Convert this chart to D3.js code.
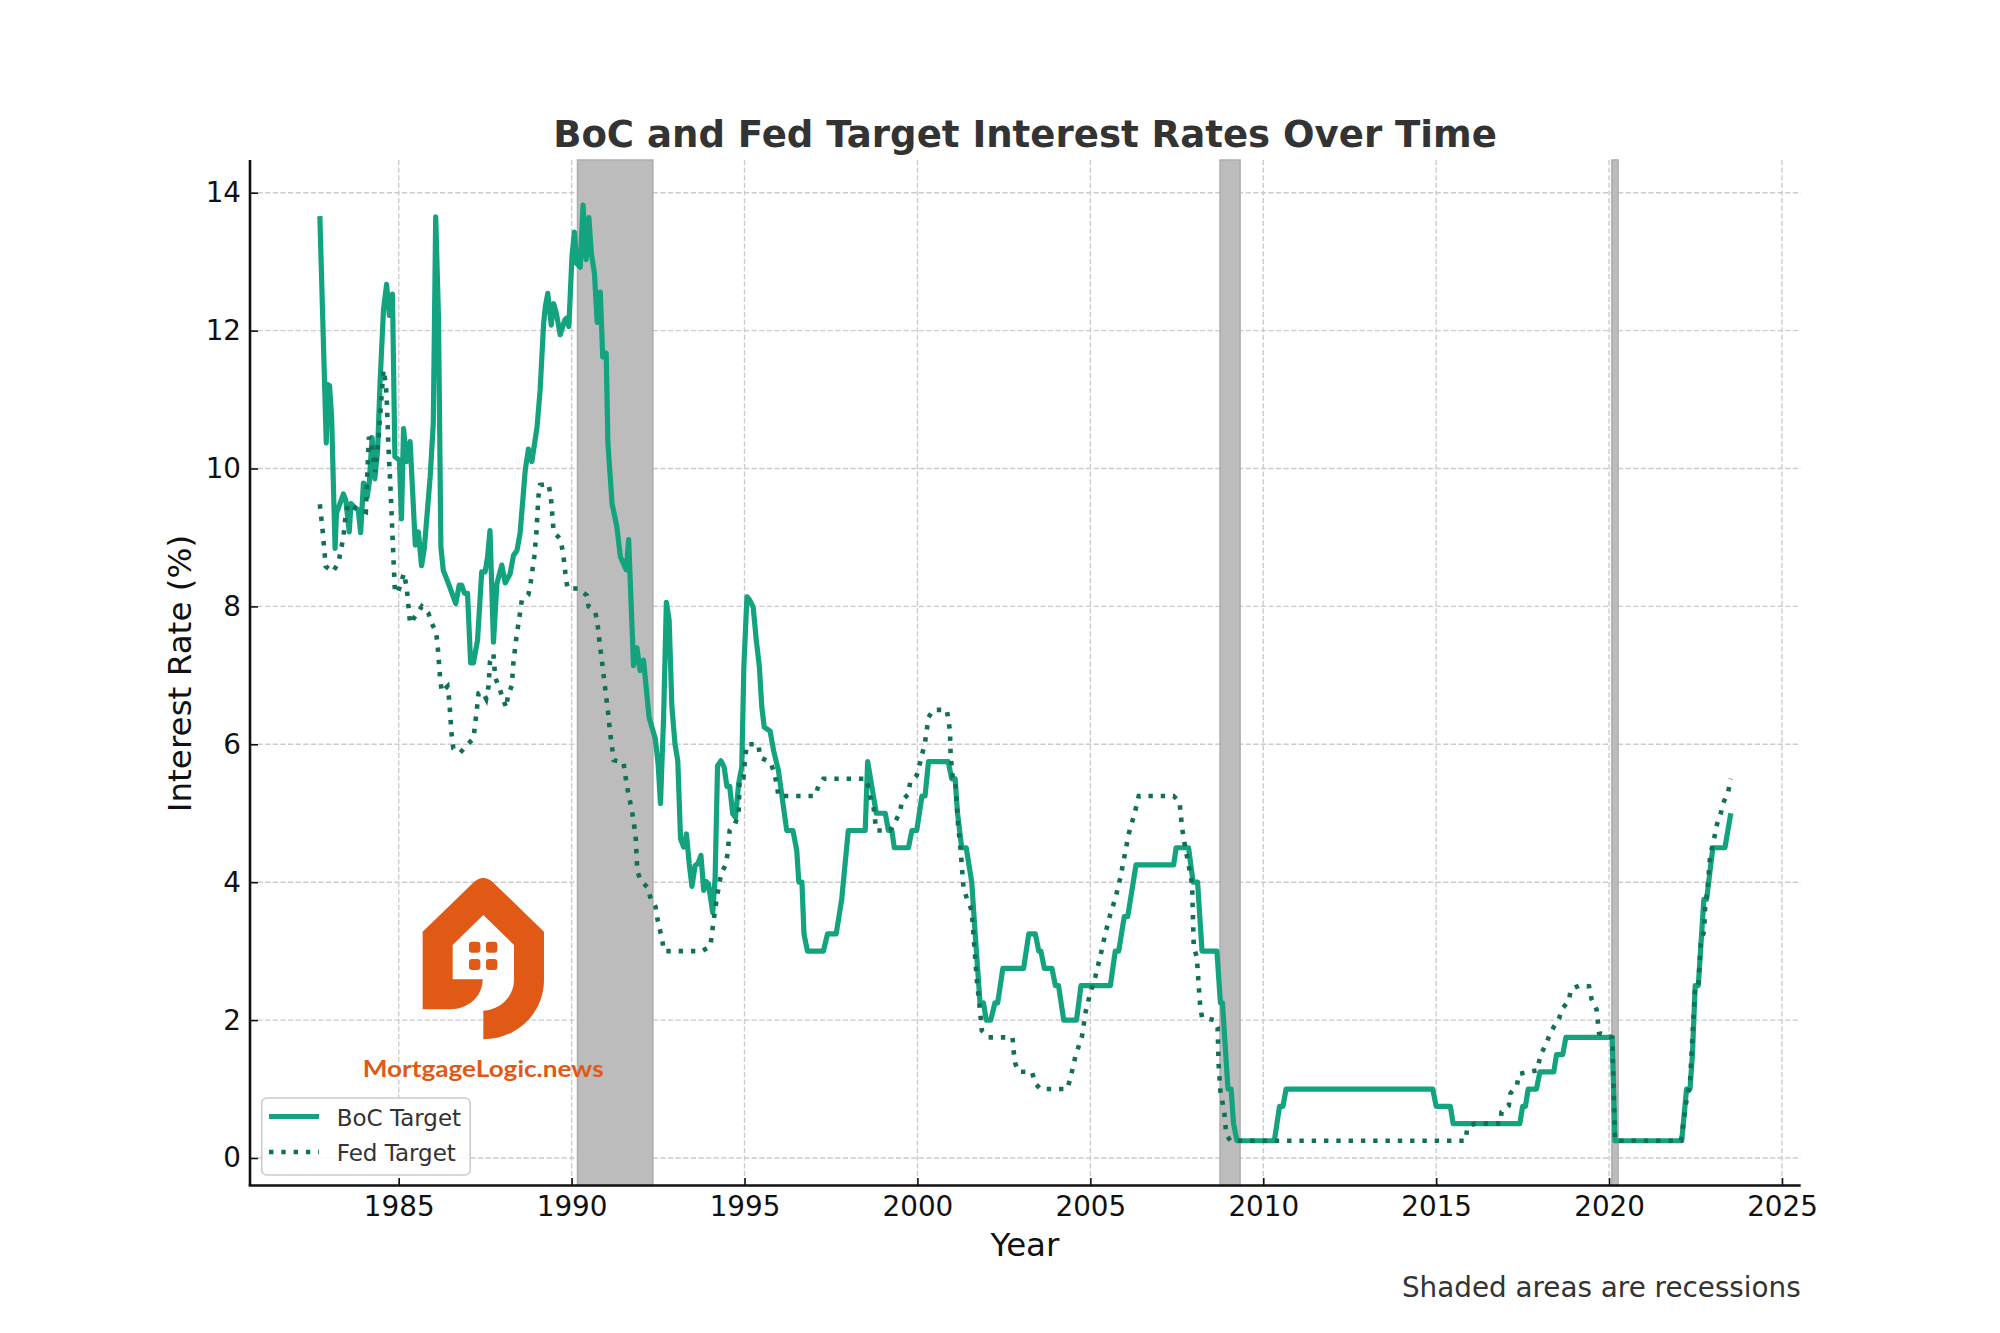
<!DOCTYPE html>
<html><head><meta charset="utf-8">
<script src="https://cdn.jsdelivr.net/npm/d3@7/dist/d3.min.js"></script>
<style>html,body{margin:0;padding:0;background:#fff}svg{display:block}text{font-family:"DejaVu Sans",sans-serif}</style>
</head><body><svg id="c" width="2000" height="1333"></svg>
<script>
const bocYears=[1982.72,1982.905,1982.94,1983.0,1983.06,1983.16,1983.2,1983.4,1983.47,1983.57,1983.62,1983.76,1983.83,1983.9,1983.98,1984.03,1984.09,1984.15,1984.23,1984.31,1984.39,1984.46,1984.56,1984.65,1984.73,1984.82,1984.89,1985.02,1985.08,1985.14,1985.23,1985.33,1985.48,1985.57,1985.66,1985.74,1985.91,1986.0,1986.07,1986.15,1986.22,1986.29,1986.44,1986.65,1986.75,1986.82,1986.9,1986.99,1987.08,1987.16,1987.28,1987.4,1987.5,1987.57,1987.64,1987.74,1987.84,1987.98,1988.08,1988.22,1988.32,1988.42,1988.51,1988.66,1988.75,1988.85,1989.0,1989.09,1989.19,1989.24,1989.31,1989.41,1989.48,1989.56,1989.67,1989.8,1989.85,1989.92,1990.01,1990.08,1990.15,1990.25,1990.33,1990.42,1990.5,1990.57,1990.66,1990.74,1990.83,1990.9,1991.0,1991.05,1991.17,1991.31,1991.41,1991.58,1991.65,1991.79,1991.89,1991.98,1992.08,1992.24,1992.42,1992.5,1992.57,1992.66,1992.74,1992.82,1992.9,1992.99,1993.07,1993.15,1993.24,1993.32,1993.4,1993.48,1993.57,1993.65,1993.74,1993.82,1993.89,1993.96,1994.08,1994.15,1994.22,1994.32,1994.41,1994.49,1994.57,1994.66,1994.74,1994.83,1994.92,1994.98,1995.07,1995.15,1995.25,1995.34,1995.43,1995.5,1995.57,1995.74,1995.84,1995.98,1996.22,1996.4,1996.51,1996.57,1996.66,1996.72,1996.82,1997.28,1997.4,1997.65,1997.81,1998.0,1998.49,1998.56,1998.81,1999.07,1999.16,1999.26,1999.33,1999.74,1999.84,1999.98,2000.13,2000.22,2000.32,2000.89,2000.99,2001.09,2001.16,2001.28,2001.41,2001.57,2001.67,2001.81,2001.91,2001.99,2002.12,2002.24,2002.32,2002.47,2003.07,2003.22,2003.41,2003.51,2003.57,2003.67,2003.89,2003.99,2004.08,2004.23,2004.6,2004.73,2005.58,2005.72,2005.82,2005.98,2006.08,2006.32,2007.41,2007.48,2007.84,2007.97,2008.1,2008.23,2008.66,2008.76,2008.82,2008.98,2009.07,2009.14,2009.24,2010.32,2010.47,2010.57,2010.66,2014.9,2015.0,2015.41,2015.49,2017.42,2017.5,2017.58,2017.66,2017.9,2018.0,2018.4,2018.48,2018.66,2018.75,2020.09,2020.17,2022.1,2022.24,2022.34,2022.41,2022.49,2022.58,2022.74,2022.82,2023.0,2023.35,2023.52];
const bocRates=[13.66,10.37,11.22,11.2,10.75,8.84,9.35,9.63,9.54,9.08,9.49,9.42,9.4,9.07,9.79,9.76,9.59,9.8,10.45,9.85,10.27,11.23,12.3,12.67,12.22,12.53,10.17,10.12,9.27,10.58,10.1,10.39,8.89,9.08,8.59,8.84,9.88,10.65,13.65,12.2,8.86,8.52,8.33,8.04,8.31,8.31,8.19,8.19,7.18,7.18,7.51,8.5,8.5,8.72,9.1,7.48,8.33,8.6,8.34,8.47,8.74,8.81,9.06,9.98,10.28,10.1,10.6,11.14,12.1,12.35,12.54,12.08,12.39,12.25,11.94,12.15,12.18,12.06,13.07,13.43,12.97,12.92,13.82,13.03,13.64,13.12,12.83,12.12,12.56,11.62,11.67,10.36,9.49,9.15,8.72,8.53,8.97,7.14,7.4,7.07,7.22,6.39,6.08,5.72,5.14,6.39,8.06,7.8,6.54,6.0,5.76,4.63,4.51,4.7,4.27,3.94,4.24,4.27,4.39,3.88,4.01,3.97,3.56,4.07,5.69,5.76,5.67,5.39,5.39,4.99,4.94,5.43,5.67,7.12,8.14,8.09,7.99,7.51,7.12,6.54,6.25,6.19,5.91,5.62,4.75,4.75,4.46,4.0,4.0,3.25,3.0,3.0,3.25,3.25,3.75,4.75,4.75,5.75,5.0,5.0,4.75,4.75,4.5,4.5,4.75,4.75,5.25,5.25,5.75,5.75,5.5,5.5,5.0,4.5,4.5,4.0,3.25,2.25,2.25,2.0,2.0,2.25,2.25,2.75,2.75,3.25,3.25,3.0,3.0,2.75,2.75,2.5,2.5,2.0,2.0,2.5,2.5,3.0,3.0,3.5,3.5,4.25,4.25,4.5,4.5,4.0,4.0,3.0,3.0,2.25,2.25,1.0,1.0,0.5,0.25,0.25,0.75,0.75,1.0,1.0,0.75,0.75,0.5,0.5,0.75,0.75,1.0,1.0,1.25,1.25,1.5,1.5,1.75,1.75,0.25,0.25,1.0,1.0,1.5,2.5,2.5,3.75,3.75,4.5,4.5,5.0];
const fedYears=[1982.72,1982.8,1982.89,1983.09,1983.25,1983.4,1983.47,1983.54,1983.69,1984.05,1984.08,1984.14,1984.22,1984.32,1984.41,1984.56,1984.62,1984.65,1984.7,1984.77,1984.83,1984.89,1984.97,1985.09,1985.15,1985.23,1985.33,1985.67,1985.86,1985.96,1986.08,1986.12,1986.15,1986.2,1986.25,1986.41,1986.46,1986.53,1986.58,1986.78,1986.99,1987.16,1987.24,1987.31,1987.43,1987.53,1987.6,1987.64,1987.74,1987.79,1987.92,1988.11,1988.16,1988.27,1988.32,1988.4,1988.51,1988.56,1988.75,1988.82,1988.92,1988.98,1989.04,1989.09,1989.33,1989.4,1989.48,1989.67,1989.75,1989.82,1989.88,1990.2,1990.44,1990.49,1990.69,1990.76,1990.81,1990.88,1990.97,1991.05,1991.12,1991.22,1991.5,1991.6,1991.75,1991.85,1991.9,1992.0,1992.19,1992.29,1992.43,1992.48,1992.62,1992.67,1993.77,1994.01,1994.1,1994.2,1994.27,1994.32,1994.44,1994.51,1994.57,1994.73,1994.83,1994.86,1994.97,1995.02,1995.07,1995.4,1995.45,1995.74,1995.84,1995.93,1995.98,1997.04,1997.14,1997.28,1998.53,1998.63,1998.73,1998.81,1999.21,1999.35,1999.5,1999.55,1999.74,1999.79,1999.98,2000.08,2000.22,2000.32,2000.46,2000.85,2000.94,2000.96,2001.02,2001.09,2001.18,2001.25,2001.33,2001.43,2001.57,2001.64,2001.72,2001.81,2001.86,2002.05,2002.75,2002.78,2002.83,2002.93,2003.31,2003.41,2003.56,2004.33,2004.42,2004.57,2004.76,2004.86,2005.0,2005.14,2005.29,2005.43,2005.58,2005.72,2005.87,2006.11,2006.3,2006.4,2007.41,2007.58,2007.65,2007.71,2007.94,2007.99,2008.08,2008.13,2008.18,2008.23,2008.57,2008.68,2008.71,2008.76,2008.87,2008.93,2009.05,2015.85,2015.9,2016.11,2016.86,2016.89,2017.1,2017.15,2017.34,2017.39,2017.92,2018.02,2018.16,2018.26,2018.4,2018.55,2018.65,2018.84,2018.89,2019.13,2019.42,2019.49,2019.64,2019.71,2020.09,2020.17,2022.08,2022.22,2022.34,2022.41,2022.49,2022.58,2022.65,2022.75,2022.78,2022.84,2022.92,2023.04,2023.12,2023.23,2023.3,2023.44,2023.52];
const fedRates=[9.48,9.1,8.58,8.5,8.62,9.0,9.35,9.49,9.44,9.37,9.78,10.46,10.35,9.95,10.4,11.43,11.25,11.06,10.36,9.64,8.91,8.23,8.19,8.38,8.48,8.28,7.75,8.0,7.9,7.75,7.63,7.46,7.28,6.94,6.76,6.84,6.65,6.14,5.94,5.88,6.0,6.08,6.42,6.74,6.76,6.66,6.85,7.2,7.31,6.97,6.8,6.53,6.71,6.85,7.2,7.54,7.91,8.09,8.17,8.36,8.72,9.06,9.59,9.76,9.78,9.59,9.08,8.98,8.79,8.48,8.26,8.26,8.16,8.0,7.91,7.7,7.47,7.2,6.81,6.48,6.14,5.77,5.74,5.39,5.02,4.68,4.16,4.02,3.93,3.76,3.64,3.47,3.16,3.0,3.0,3.07,3.42,3.78,3.97,4.12,4.24,4.41,4.75,4.85,5.0,5.52,5.52,5.81,6.0,6.0,5.81,5.74,5.62,5.43,5.25,5.25,5.4,5.5,5.5,5.25,5.09,4.75,4.75,4.87,5.02,5.18,5.28,5.45,5.55,5.74,6.03,6.39,6.5,6.5,6.2,5.84,5.52,5.5,4.8,4.46,3.93,3.76,3.59,3.1,2.57,2.14,1.85,1.75,1.75,1.55,1.37,1.25,1.25,1.08,1.0,1.0,1.15,1.48,1.77,2.11,2.4,2.62,2.93,3.25,3.54,3.76,4.07,4.7,5.04,5.25,5.25,5.16,4.8,4.6,3.98,3.06,2.91,2.52,2.18,2.04,2.0,1.89,1.36,0.97,0.68,0.34,0.25,0.25,0.44,0.5,0.5,0.67,0.76,0.94,1.06,1.22,1.27,1.5,1.63,1.76,1.9,2.02,2.17,2.28,2.44,2.5,2.49,2.31,2.15,1.81,1.75,0.25,0.25,0.78,1.09,1.76,2.49,2.5,3.11,3.3,3.69,3.84,4.38,4.64,4.84,5.0,5.15,5.3,5.5];
const recessionStarts=[1990.17,2008.75,2020.08];
const recessionEnds=[1992.35,2009.33,2020.26];
const xTicks=[1985,1990,1995,2000,2005,2010,2015,2020,2025];
const yTicks=[0,2,4,6,8,10,12,14];
const seriesNames=["BoC Target","Fed Target"];
const titleText="BoC and Fed Target Interest Rates Over Time";

const m={l:250,r:1800.7,t:160,b:1185.5};
const x=d3.scaleLinear().domain([1985,2025]).range([398.7,1782]);
const y=d3.scaleLinear().domain([0,14]).range([1158,192.7]);
const svg=d3.select("#c");
const BOC="#14a37f",FED="#12705a",ORANGE="#e05a16";

// grid
const grid=svg.append("g").attr("stroke","#cccccc").attr("stroke-width",1.4).attr("stroke-dasharray","5.2 2.4");
grid.selectAll(".gx").data(xTicks).join("line").attr("x1",d=>x(d)).attr("x2",d=>x(d)).attr("y1",m.t).attr("y2",m.b);
grid.selectAll(".gy").data(yTicks).join("line").attr("x1",m.l).attr("x2",m.r).attr("y1",d=>y(d)).attr("y2",d=>y(d));

// recessions
svg.append("g").selectAll("rect").data(recessionStarts).join("rect")
 .attr("x",d=>x(d)).attr("width",(d,i)=>x(recessionEnds[i])-x(d))
 .attr("y",m.t).attr("height",m.b-m.t)
 .attr("fill","#bcbcbc").attr("stroke","#adadad").attr("stroke-width",1.5);

// axes
const ax=svg.append("g").attr("transform",`translate(0,${m.b})`)
 .call(d3.axisBottom(x).tickValues(xTicks).tickFormat(d3.format("d")).tickSizeInner(-7.5).tickSizeOuter(0));
const ay=svg.append("g").attr("transform",`translate(${m.l},0)`)
 .call(d3.axisLeft(y).tickValues(yTicks).tickFormat(d3.format("d")).tickSizeInner(-8).tickSizeOuter(0));
ax.select(".domain").attr("d",`M${m.l-1.3},0H${m.r}`);
ay.select(".domain").attr("d",`M0,${m.t}V${m.b}`);
[ax,ay].forEach(g=>{
 g.select(".domain").attr("stroke","#111").attr("stroke-width",2.6).attr("fill","none");
 g.selectAll(".tick line").attr("stroke","#111").attr("stroke-width",1.6);
 g.selectAll(".tick text").attr("font-size",27.8).attr("fill","#111").attr("font-family",'"DejaVu Sans"');
});
ax.selectAll(".tick text").attr("y",11);
ay.selectAll(".tick text").attr("x",-9);

// lines
const mk=(xs,ys)=>d3.line().x((d,i)=>x(xs[i])).y((d,i)=>y(ys[i]))(xs);
svg.append("path").attr("d",mk(bocYears,bocRates)).attr("fill","none").attr("stroke",BOC).attr("stroke-width",5.2).attr("stroke-linejoin","round");
svg.append("path").attr("d",mk(fedYears,fedRates)).attr("fill","none").attr("stroke",FED).attr("stroke-width",4.6).attr("stroke-dasharray","4.4 7.9");

// text
svg.append("text").attr("x",1025).attr("y",147).attr("text-anchor","middle").attr("font-size",37.1).attr("font-weight","bold").attr("fill","#333").text(titleText);
svg.append("text").attr("x",1025).attr("y",1256).attr("text-anchor","middle").attr("font-size",32.5).attr("fill","#111").text("Year");
svg.append("text").attr("transform","translate(191,673.5) rotate(-90)").attr("text-anchor","middle").attr("font-size",32.6).attr("fill","#111").text("Interest Rate (%)");
svg.append("text").attr("x",1800.7).attr("y",1297).attr("text-anchor","end").attr("font-size",27.8).attr("fill","#333").text("Shaded areas are recessions");

// logo
const logo=svg.append("g").attr("transform","translate(400,860) scale(0.3333)");
logo.append("path").attr("fill",ORANGE).attr("fill-rule","evenodd").attr("d",
 "M68,215 L222,66 Q250,42 278,66 L432,215 L432,360 C432,460 350,538 250,538 L250,452 C300,450 342,410 342,360 L342,255 L250,165 L158,255 L158,358 L248,358 C248,410 205,448 150,448 L68,448 Z");
const wx=[207,258],wy=[245,297];
wy.forEach(b=>wx.forEach(a=>logo.append("rect").attr("x",a).attr("y",b).attr("width",34).attr("height",33).attr("rx",9).attr("fill",ORANGE)));
svg.append("text").attr("x",362.7).attr("y",1077).attr("font-weight",700).attr("font-size",23).attr("fill",ORANGE)
 .attr("textLength",241).attr("lengthAdjust","spacingAndGlyphs").style("font-family","Lato").text("MortgageLogic.news");

// legend
const lg=svg.append("g");
lg.append("rect").attr("x",261.7).attr("y",1098).attr("width",208.5).attr("height",77).attr("rx",5).attr("fill","#fff").attr("fill-opacity",0.85).attr("stroke","#cccccc").attr("stroke-width",1.6);
lg.append("line").attr("x1",269).attr("x2",319).attr("y1",1116.5).attr("y2",1116.5).attr("stroke",BOC).attr("stroke-width",5.2);
lg.append("line").attr("x1",269).attr("x2",319).attr("y1",1152).attr("y2",1152).attr("stroke",FED).attr("stroke-width",4.6).attr("stroke-dasharray","4.4 7.9");
seriesNames.forEach((s,i)=>lg.append("text").attr("x",336.7).attr("y",[1125.5,1160.5][i]).attr("font-size",23).attr("fill","#333").text(s));
</script></body></html>
